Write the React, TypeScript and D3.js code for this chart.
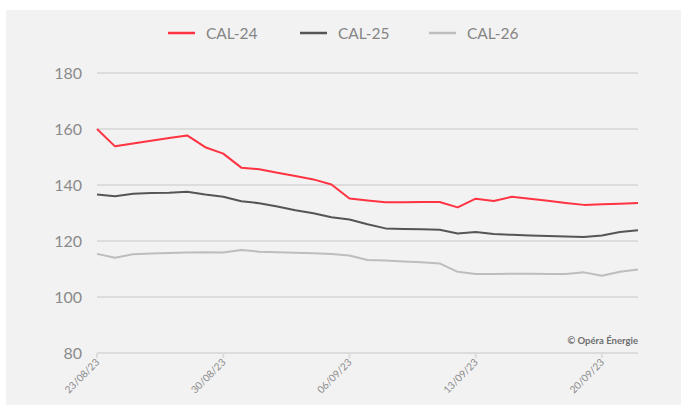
import React from "react";
import * as d3 from "d3";

const startDate = "2023-08-23";
const dayCount = 31;
const cal24 = [160, 153.8, 154.8, 155.8, 156.8, 157.7, 153.5, 151.2, 146.2, 145.6, 144.4, 143.2, 142, 140.2, 135.2, 134.5, 133.8, 133.8, 133.9, 133.9, 132, 135.1, 134.3, 135.8, 135.1, 134.4, 133.6, 132.9, 133.1, 133.3, 133.6];
const cal25 = [136.6, 136.0, 136.9, 137.1, 137.2, 137.6, 136.6, 135.8, 134.2, 133.5, 132.3, 131.0, 129.9, 128.5, 127.7, 126.0, 124.5, 124.3, 124.2, 124.0, 122.7, 123.2, 122.5, 122.2, 122.0, 121.8, 121.6, 121.4, 122.0, 123.2, 123.8];
const cal26 = [115.4, 114.0, 115.3, 115.5, 115.7, 115.9, 116.0, 115.9, 116.8, 116.2, 116.0, 115.8, 115.6, 115.4, 114.8, 113.2, 113.0, 112.7, 112.4, 112.0, 109.0, 108.2, 108.2, 108.3, 108.3, 108.2, 108.2, 108.8, 107.6, 109.0, 109.8];
const seriesNames = ["CAL-24", "CAL-25", "CAL-26"];
const yTicks = [80, 100, 120, 140, 160, 180];
const xTickLabels = ["23/08/23", "30/08/23", "06/09/23", "13/09/23", "20/09/23"];

const colors = ["#ff3341", "#555555", "#bdbdbd"];
const FONT = "Lato, 'Open Sans', sans-serif";

export default function App() {
  const W = 681, H = 405;
  const t0 = new Date(startDate + "T00:00:00");
  const dates = d3.range(dayCount).map((i) => d3.timeDay.offset(t0, i));
  const x = d3.scaleTime().domain([dates[0], dates[dates.length - 1]]).range([97, 638]);
  const y = d3.scaleLinear().domain([80, 180]).range([353, 73]);
  const line = d3.line<number>().x((_, i) => x(dates[i])).y((v) => y(v));
  const all = [cal24, cal25, cal26];
  const tickDates = xTickLabels.map((_, i) => d3.timeDay.offset(t0, i * 7));
  const legendX = [168, 300, 429];

  return (
    <svg width={W} height={H} style={{ position: "absolute", left: 0, top: 0, fontFamily: FONT }}>
      <rect x={0} y={0} width={W} height={H} fill="#ffffff" />
      <rect x={6} y={10} width={W - 6} height={H - 10} fill="#f2f2f2" />
      {yTicks.map((t) => (
        <g key={t}>
          <line x1={97} x2={638} y1={y(t)} y2={y(t)} stroke="#dcdcdc" strokeWidth={2} />
          <text x={82} y={y(t) + 5.5} textAnchor="end" fontSize={16} fill="#8a8a8a">{t}</text>
        </g>
      ))}
      {tickDates.map((d, i) => (
        <g key={i} transform={`translate(${x(d)},${y(80)})`}>
          <line y1={0} y2={5} stroke="#dcdcdc" strokeWidth={2} />
          <text transform="translate(3,10) rotate(-45)" textAnchor="end" fontSize={10} fill="#8a8a8a">{xTickLabels[i]}</text>
        </g>
      ))}
      {all.map((s, i) => (
        <path key={i} d={line(s) || ""} fill="none" stroke={colors[i]} strokeWidth={2} strokeLinejoin="round" />
      ))}
      <text x={638} y={344} textAnchor="end" fontSize={9.5} fontWeight={700} fill="#6e6e6e">© Opéra Énergie</text>
      {seriesNames.map((n, i) => (
        <g key={n}>
          <line x1={legendX[i]} x2={legendX[i] + 27} y1={33} y2={33} stroke={colors[i]} strokeWidth={2.5} />
          <text x={legendX[i] + 38} y={38.5} fontSize={15.5} fill="#858585">{n}</text>
        </g>
      ))}
    </svg>
  );
}
